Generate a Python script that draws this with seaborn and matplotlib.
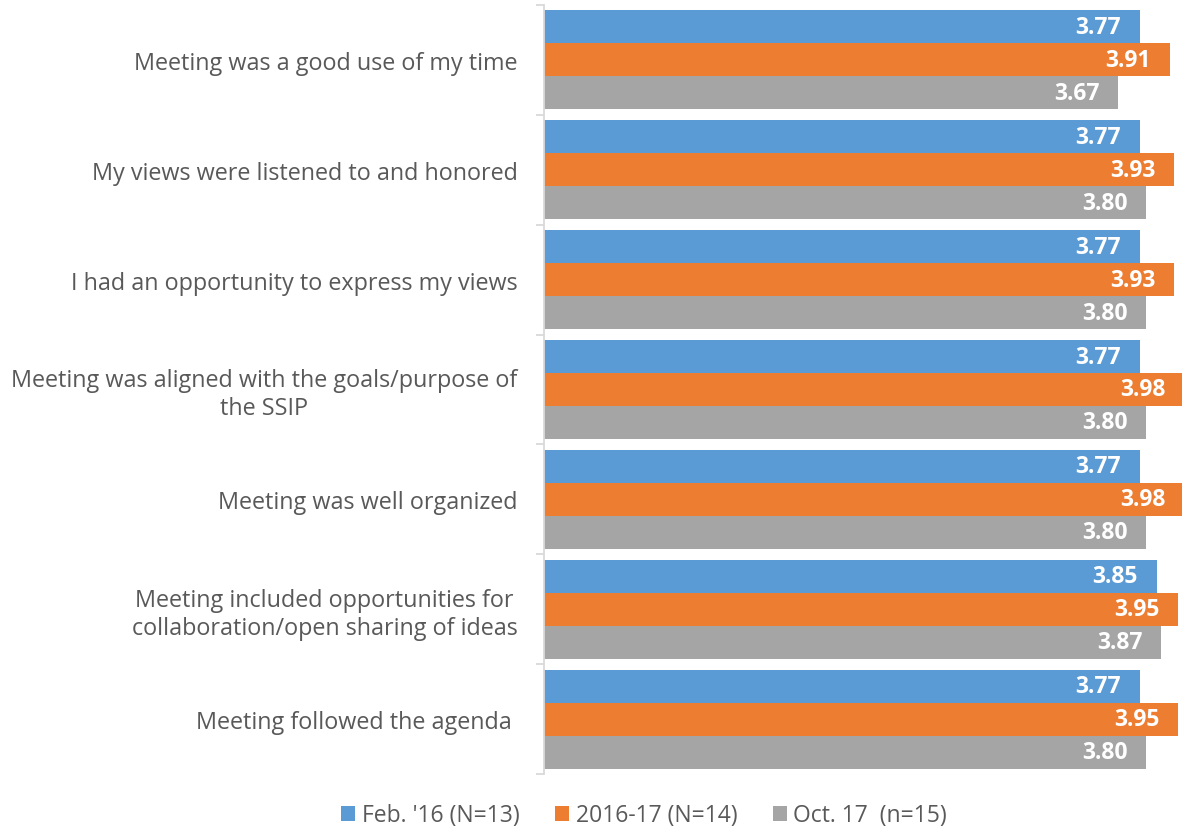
import pandas as pd
import matplotlib.pyplot as plt
import seaborn as sns

categories = [
    'Meeting was a good use of my time',
    'My views were listened to and honored',
    'I had an opportunity to express my views',
    'Meeting was aligned with the goals/purpose of\nthe SSIP',
    'Meeting was well organized',
    'Meeting included opportunities for\ncollaboration/open sharing of ideas',
    'Meeting followed the agenda ',
]
series = ["Feb. '16 (N=13)", '2016-17 (N=14)', 'Oct. 17  (n=15)']
feb16 = [3.77, 3.77, 3.77, 3.77, 3.77, 3.85, 3.77]
y1617 = [3.91, 3.93, 3.93, 3.98, 3.98, 3.95, 3.95]
oct17 = [3.67, 3.80, 3.80, 3.80, 3.80, 3.87, 3.80]
colors = ['#5B9BD5', '#ED7D31', '#A5A5A5']

rows = []
for name, vals in zip(series, [feb16, y1617, oct17]):
    for c, v in zip(categories, vals):
        rows.append({'item': c, 'series': name, 'score': v})
df = pd.DataFrame(rows)

sns.set_style('white')
plt.rcParams['font.family'] = ['Open Sans', 'DejaVu Sans']

fig = plt.figure(figsize=(11.82, 8.28), dpi=100)
ax = fig.add_axes([0.4602, 0.064, 0.5457, 0.9288])
sns.barplot(data=df, y='item', x='score', hue='series', orient='h',
            palette=colors, width=0.9, saturation=1, linewidth=0, ax=ax, legend=True)

ax.set_xlim(1, 4)
ax.set_xlabel('')
ax.set_ylabel('')
ax.set_xticks([])
for s in ['top', 'right', 'bottom']:
    ax.spines[s].set_visible(False)
ax.spines['left'].set_color('#d9d9d9')
ax.spines['left'].set_linewidth(1.3)

ax.set_yticks(range(len(categories)))
ax.set_yticklabels(categories, fontsize=16.8, color='#595959', multialignment='center')
ax.tick_params(axis='y', which='major', length=0, pad=19)
ax.set_yticks([i - 0.5 for i in range(len(categories) + 1)], minor=True)
ax.tick_params(axis='y', which='minor', left=True, length=6, width=1.3, color='#d9d9d9')

for cont in ax.containers:
    for bar in cont:
        w = bar.get_width()
        cy = bar.get_y() + bar.get_height() / 2
        ax.annotate(f'{w:.2f}', (w, cy), xytext=(-13.5, 0), textcoords='offset points',
                    ha='right', va='center', color='white', fontweight='bold', fontsize=16.5)

handles, labels = ax.get_legend_handles_labels()
ax.legend_.remove()
fig.legend(handles, labels, loc='center', bbox_to_anchor=(0.545, 0.014), ncol=3,
           frameon=False, fontsize=16.5, labelcolor='#595959', handlelength=0.6,
           handleheight=0.6, handletextpad=0.3, columnspacing=1.55)

fig.savefig('out.png', dpi=100)
